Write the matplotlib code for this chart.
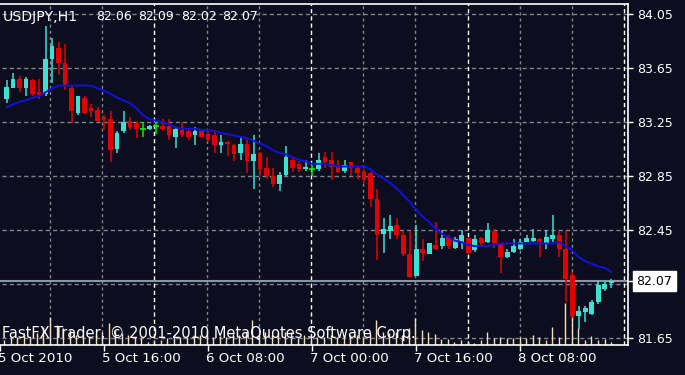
import matplotlib.pyplot as plt
from matplotlib import transforms
import numpy as np

# USDJPY H1 bars, 5 Oct 2010 01:00 ... 8 Oct 2010 22:00
opens = [83.42, 83.50, 83.57, 83.50, 83.56, 83.47, 83.46, 83.72, 83.80, 83.69,
         83.50, 83.32, 83.43, 83.35, 83.34, 83.29, 83.27, 83.05, 83.18, 83.26,
         83.24, 83.20, 83.20, 83.22, 83.22, 83.22, 83.14, 83.19, 83.18, 83.15,
         83.18, 83.16, 83.15, 83.08, 83.10, 83.08, 83.02, 83.09, 82.96, 83.02,
         82.91, 82.85, 82.79, 82.86, 82.97, 82.94, 82.90, 82.90, 82.90, 82.99,
         82.97, 82.92, 82.89, 82.95, 82.91, 82.88, 82.87, 82.68, 82.42, 82.44,
         82.49, 82.41, 82.27, 82.11, 82.31, 82.27, 82.34, 82.33, 82.40, 82.32,
         82.36, 82.39, 82.30, 82.39, 82.36, 82.44, 82.35, 82.25, 82.29, 82.31,
         82.36, 82.37, 82.38, 82.35, 82.38, 82.41, 82.31, 82.12, 81.81, 81.84,
         81.83, 81.92, 82.01, 82.06]
highs = [83.56, 83.61, 83.59, 83.58, 83.57, 83.57, 83.96, 83.87, 83.84, 83.83,
         83.52, 83.44, 83.44, 83.38, 83.36, 83.30, 83.33, 83.18, 83.33, 83.29,
         83.26, 83.25, 83.23, 83.25, 83.27, 83.27, 83.21, 83.25, 83.19, 83.21,
         83.19, 83.18, 83.19, 83.15, 83.11, 83.09, 83.13, 83.12, 83.15, 83.03,
         82.99, 82.91, 82.88, 83.07, 82.99, 82.96, 82.97, 82.93, 83.02, 83.03,
         83.03, 82.97, 82.97, 82.95, 82.92, 82.90, 82.88, 82.75, 82.54, 82.56,
         82.54, 82.44, 82.44, 82.49, 82.38, 82.35, 82.51, 82.45, 82.41, 82.40,
         82.45, 82.39, 82.41, 82.40, 82.50, 82.46, 82.35, 82.31, 82.38, 82.38,
         82.41, 82.46, 82.39, 82.45, 82.56, 82.44, 82.44, 82.14, 81.89, 81.89,
         81.93, 82.07, 82.07, 82.09]
lows = [83.39, 83.50, 83.47, 83.44, 83.44, 83.42, 83.44, 83.54, 83.60, 83.49,
        83.24, 83.30, 83.31, 83.29, 83.25, 83.19, 82.95, 83.02, 83.17, 83.19,
        83.13, 83.14, 83.19, 83.16, 83.18, 83.12, 83.06, 83.14, 83.12, 83.08,
        83.14, 83.10, 83.02, 83.02, 83.00, 82.96, 82.97, 82.87, 82.75, 82.85,
        82.83, 82.77, 82.74, 82.85, 82.88, 82.88, 82.89, 82.85, 82.89, 82.91,
        82.82, 82.87, 82.87, 82.85, 82.83, 82.80, 82.62, 82.23, 82.28, 82.38,
        82.38, 82.26, 82.10, 82.11, 82.22, 82.27, 82.30, 82.31, 82.31, 82.31,
        82.31, 82.27, 82.29, 82.33, 82.35, 82.32, 82.13, 82.24, 82.28, 82.30,
        82.36, 82.36, 82.25, 82.31, 82.36, 82.25, 81.92, 81.80, 81.72, 81.77,
        81.82, 81.90, 82.00, 82.02]
closes = [83.51, 83.57, 83.50, 83.57, 83.46, 83.45, 83.72, 83.81, 83.69, 83.52,
          83.33, 83.44, 83.32, 83.33, 83.26, 83.27, 83.04, 83.17, 83.25, 83.21,
          83.20, 83.20, 83.22, 83.22, 83.20, 83.15, 83.20, 83.15, 83.14, 83.18,
          83.14, 83.12, 83.08, 83.10, 83.09, 83.01, 83.09, 82.96, 83.01, 82.90,
          82.85, 82.79, 82.86, 82.99, 82.91, 82.90, 82.92, 82.90, 82.97, 82.95,
          82.92, 82.88, 82.93, 82.91, 82.87, 82.83, 82.68, 82.41, 82.46, 82.48,
          82.41, 82.27, 82.10, 82.31, 82.28, 82.35, 82.31, 82.39, 82.33, 82.38,
          82.41, 82.28, 82.38, 82.35, 82.45, 82.35, 82.25, 82.29, 82.33, 82.36,
          82.39, 82.39, 82.36, 82.40, 82.41, 82.31, 82.09, 81.81, 81.85, 81.87,
          81.92, 82.04, 82.05, 82.07]
# moving average as drawn on the chart
ma = [83.36, 83.38, 83.40, 83.41, 83.43, 83.44, 83.47, 83.50, 83.52, 83.52,
      83.52, 83.52, 83.52, 83.52, 83.50, 83.48, 83.46, 83.43, 83.41, 83.39,
      83.35, 83.30, 83.27, 83.26, 83.25, 83.23, 83.21, 83.20, 83.20, 83.20,
      83.19, 83.19, 83.18, 83.17, 83.16, 83.15, 83.14, 83.13, 83.11, 83.09,
      83.07, 83.04, 83.02, 83.01, 82.99, 82.97, 82.96, 82.94, 82.94, 82.94,
      82.93, 82.92, 82.92, 82.92, 82.92, 82.92, 82.90, 82.86, 82.83, 82.80,
      82.76, 82.71, 82.66, 82.60, 82.55, 82.51, 82.46, 82.42, 82.40, 82.37,
      82.36, 82.34, 82.33, 82.33, 82.33, 82.34, 82.35, 82.35, 82.35, 82.35,
      82.35, 82.35, 82.35, 82.35, 82.35, 82.36, 82.33, 82.30, 82.25, 82.22,
      82.20, 82.18, 82.17, 82.14]
# tick volumes
volumes = [200, 320, 320, 480, 320, 480, 720, 1120, 800, 680,
           600, 400, 320, 320, 400, 520, 880, 600, 480, 400,
           320, 280, 120, 200, 200, 280, 400, 320, 320, 400,
           400, 480, 320, 360, 320, 440, 400, 520, 1000, 400,
           520, 400, 480, 520, 520, 280, 400, 320, 320, 320,
           400, 320, 320, 400, 400, 320, 480, 1000, 520, 480,
           520, 400, 680, 1080, 600, 520, 440, 240, 240, 120,
           200, 120, 80, 200, 520, 280, 320, 280, 280, 320,
           280, 400, 320, 200, 720, 320, 1680, 1200, 680, 200,
           360, 200, 240, 120]

price_ticks = [84.05, 83.65, 83.25, 82.85, 82.45, 81.65]
grid_prices = [84.05, 83.65, 83.25, 82.85, 82.45, 82.05, 81.65]
time_labels = ['5 Oct 2010', '5 Oct 16:00', '6 Oct 08:00', '7 Oct 00:00', '7 Oct 16:00', '8 Oct 08:00']
time_bars = [-1, 15, 31, 47, 63, 79]
grid_bars = [7, 15, 31, 39, 55, 63, 79, 87]
day_bars = [23, 47, 71, 95]

bg = '#0c0e20'
up_col = '#40e0d0'
down_col = '#e00000'
doji_col = '#00ee00'
grid_col = '#7d838f'

x = np.arange(len(opens))
o = np.array(opens)
c = np.array(closes)
colors = np.where(c > o, up_col, np.where(c < o, down_col, doji_col))

fig = plt.figure(figsize=(6.85, 3.75), dpi=100, facecolor=bg)
rect = [0, 30 / 375, 628 / 685, 341 / 375]
axv = fig.add_axes(rect, facecolor=bg)
ax = fig.add_axes(rect, facecolor='none')

xlim = (-0.665, 95.6)
axv.set_xlim(xlim)
ax.set_xlim(xlim)
ax.set_ylim(81.598, 84.124)
axv.set_ylim(0, 341 * 40)
axv.axis('off')

# grid (grey) and day separators (white)
for p in grid_prices:
    axv.plot(xlim, [p, p], transform=ax.transData, color=grid_col, lw=1,
             dashes=(3, 2.2), zorder=1)
for b in grid_bars:
    axv.axvline(b, color=grid_col, lw=1, dashes=(2.2, 2.2), zorder=1)
for b in day_bars:
    axv.axvline(b, color='white', lw=1, dashes=(3, 2.2), zorder=1)

# volumes
axv.vlines(x, 0, volumes, color='#f5deb3', lw=1, zorder=2)

# bid line
ax.axhline(closes[-1], color='#8a96a8', lw=1.5, zorder=1)

# candles
ax.vlines(x, lows, highs, color=colors, lw=1.1, zorder=3)
body = np.abs(c - o)
ax.bar(x, body, bottom=np.minimum(o, c), width=0.75, color=colors, lw=0, zorder=3)
doji = c == o
ax.hlines(c[doji], x[doji] - 0.4, x[doji] + 0.4, color=doji_col, lw=1.2, zorder=3)

# moving average
ax.plot(x, ma, color='#1010e0', lw=1.4, zorder=4)

# frame
for s in ['top', 'bottom', 'right']:
    ax.spines[s].set_color('white')
    ax.spines[s].set_linewidth(1.2)
ax.spines['left'].set_visible(False)

ax.yaxis.tick_right()
ax.set_yticks(price_ticks)
ax.set_yticklabels([f'{p:.2f}' for p in price_ticks])
ax.tick_params(axis='y', colors='white', length=3.5, width=1, pad=3, labelsize=9)
ax.set_xticks(time_bars)
ax.set_xticklabels([''] * len(time_bars))
ax.tick_params(axis='x', colors='white', length=4, width=1)
for b, lab in zip(time_bars, time_labels):
    ax.text(b - 0.3, -0.041, lab, transform=ax.get_xaxis_transform(), color='white',
            fontsize=9.6, ha='left', va='center', clip_on=False)

# current price box
tr = transforms.blended_transform_factory(ax.transAxes, ax.transData)
ax.plot([1.0, 1.008], [closes[-1]] * 2, transform=tr, color='white', lw=1, clip_on=False)
ax.text(1.013, closes[-1], f'{closes[-1]:.2f}', transform=tr, color='black', fontsize=9,
        ha='left', va='center', clip_on=False,
        bbox=dict(boxstyle='square,pad=0.28', fc='white', ec='white'))

# header
ax.text(3 / 628, 0.962, 'USDJPY,H1', transform=ax.transAxes, color='white', fontsize=10.2,
        ha='left', va='center')
for px, v in zip([96, 138, 181.5, 222.5], [opens[-1], highs[-1], lows[-1], closes[-1]]):
    ax.text(px / 628, 0.962, f'{v:.2f}', transform=ax.transAxes, color='white', fontsize=9,
            ha='left', va='center')

ax.text(1.5 / 628, 0.035, 'FastFX Trader, \u00a9 2001-2010 MetaQuotes Software Corp.',
        transform=ax.transAxes, color='white', fontsize=10.5, ha='left', va='center', zorder=5)

fig.savefig('out.png', dpi=100, facecolor=bg)
